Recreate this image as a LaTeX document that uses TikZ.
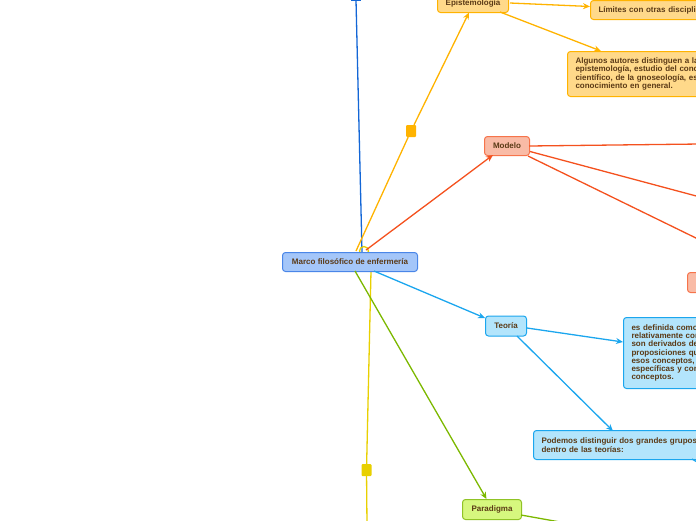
\documentclass[tikz,border=0pt]{standalone}
\usepackage{fontspec}
\setmainfont{Liberation Sans}
\usetikzlibrary{arrows.meta}
\definecolor{txtbrown}{HTML}{5B3A16}
\definecolor{cenfill}{HTML}{A4C6F9}
\definecolor{cenline}{HTML}{4A86E8}
\definecolor{blueline}{HTML}{1366D6}
\definecolor{amber}{HTML}{FFB300}
\definecolor{amberfill}{HTML}{FFD98A}
\definecolor{redline}{HTML}{F4511E}
\definecolor{redfill}{HTML}{F9BBA6}
\definecolor{cyanline}{HTML}{1BA6EE}
\definecolor{cyanfill}{HTML}{B3E5FC}
\definecolor{greenline}{HTML}{7CB800}
\definecolor{greenfill}{HTML}{D6F77E}
\definecolor{yelline}{HTML}{E8D000}

\begin{document}
\begin{tikzpicture}[x=1pt,y=-1pt,>={Stealth[length=7pt,width=6pt]},
  box/.style={draw,rounded corners=3pt,line width=1pt,anchor=north west,inner sep=0pt,
    font=\fontsize{8}{8.6}\selectfont\bfseries,text=txtbrown},
  longbox/.style={box,align=left,inner xsep=8pt},
  conn/.style={line width=1.3pt},
  marker/.style={rounded corners=1pt,minimum width=10pt,minimum height=12pt,inner sep=0pt}]
\useasboundingbox (0,0) rectangle (696,520);
\clip (0,0) rectangle (696,520);

% branch lines out of the root
\draw[conn,blueline] (362,252) -- (356,0);
\fill[blueline] (351,-11) rectangle (361,1);
\draw[conn,yelline] (364,251) circle (4.5);
\coordinate (yelend) at (367,525);
\node[marker,fill=yelline] (yelmark) at (366.5,470) {};
\draw[conn,yelline] (371,271) -- (yelmark) -- (yelend);

% nodes
\node[box,fill=cenfill,draw=cenline,minimum width=135,minimum height=19] (marco) at (282,252) {Marco filosófico de enfermería};
\node[box,fill=amberfill,draw=amber,minimum width=71,minimum height=19] (episte) at (437,-7) {Epistemología};
\node[longbox,fill=amberfill,draw=amber,text width=140,minimum height=19] (limites) at (590,0) {Límites con otras disciplinas};
\node[longbox,fill=amberfill,draw=amber,text width=190,minimum height=45] (algunos) at (567,51) {Algunos autores distinguen a la\\epistemología, estudio del conocimiento\\científico, de la gnoseología, estudio del\\conocimiento en general.};
\node[box,fill=redfill,draw=redline!80,minimum width=45,minimum height=19] (modelo) at (484,136) {Modelo};
\node[box,fill=redfill,draw=redline!80,minimum width=40,minimum height=20] (modhijo) at (687,272) {};
\node[box,fill=cyanfill,draw=cyanline,minimum width=41,minimum height=20] (teoria) at (485,315.5) {Teoría};
\node[longbox,fill=cyanfill,draw=cyanline,text width=170,minimum height=71,font=\fontsize{8}{8.2}\selectfont\bfseries] (definida) at (623,317) {es definida como un grupo\\relativamente concreto de conceptos que\\son derivados de un modelo, y las\\proposiciones que describen\\esos conceptos, y las relaciones\\específicas y concretas entre los\\conceptos.};
\node[longbox,fill=cyanfill,draw=cyanline,text width=190,minimum height=29] (podemos) at (533,430) {Podemos distinguir dos grandes grupos\\dentro de las teorías:};
\node[box,fill=greenfill,draw=greenline!85,minimum width=59,minimum height=20] (paradigma) at (462,499) {Paradigma};

% epistemologia
\node[marker,fill=amber] (ambmark) at (411,131) {};
\draw[conn,amber] (356,251) -- (ambmark);
\draw[conn,amber,->] (ambmark) -- (469,12.5);
\draw[conn,amber,->] (510,3) -- (590,6.5);
\draw[conn,amber,->] (500,12) -- (601,51);

% modelo
\coordinate (modA) at (700,144);
\coordinate (modB) at (700,197);
\coordinate (modC) at (700,240);
\draw[conn,redline,->] (366,250) -- (493,155);
\draw[conn,redline] (529,146) -- (modA);
\draw[conn,redline] (530,151.5) -- (modB);
\draw[conn,redline] (528,156) -- (modC);

% teoria
\coordinate (podsal) at (704,466);
\draw[conn,cyanline,->] (374,271) -- (485,318);
\draw[conn,cyanline,->] (527,328) -- (623,342);
\draw[conn,cyanline,->] (517,336) -- (613,431);
\draw[conn,cyanline] (692,459) -- (podsal);

% paradigma
\coordinate (parsal) at (560,522);
\draw[conn,greenline,->] (355,271) -- (486.5,499);
\draw[conn,greenline] (521,515) -- (parsal);
\end{tikzpicture}
\end{document}
